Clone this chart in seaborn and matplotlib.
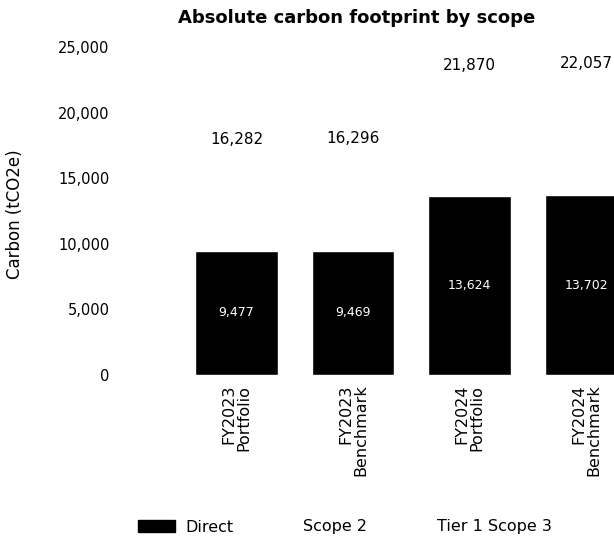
import numpy as np
import pandas as pd
import matplotlib.pyplot as plt
import seaborn as sns
from matplotlib.patches import Patch

# Data
categories = ["FY2023\nPortfolio", "FY2023\nBenchmark", "FY2024\nPortfolio", "FY2024\nBenchmark"]
direct = [9477, 9469, 13624, 13702]
scope2 = [1203, 1210, 1530, 1548]
tier1_scope3 = [5602, 5617, 6716, 6807]
totals = [16282, 16296, 21870, 22057]

df = pd.DataFrame({
    "category": categories,
    "Direct": direct,
    "Scope 2": scope2,
    "Tier 1 Scope 3": tier1_scope3,
})
df["cum2"] = df["Direct"] + df["Scope 2"]
df["cum3"] = df["cum2"] + df["Tier 1 Scope 3"]

sns.set_style("white")
plt.rcParams["font.family"] = ["DejaVu Sans"]
plt.rcParams["text.color"] = "black"
plt.rcParams["xtick.color"] = "black"
plt.rcParams["ytick.color"] = "black"
plt.rcParams["axes.labelcolor"] = "black"

fig = plt.figure(figsize=(6.14, 5.47), dpi=100)
ax = fig.add_axes([115 / 614, 172 / 547, 499 / 614, 328 / 547])

# layered bars (top layers are white, as in the reference)
sns.barplot(data=df, x="category", y="cum3", color="white", width=0.71, ax=ax,
            order=categories)
sns.barplot(data=df, x="category", y="cum2", color="white", width=0.71, ax=ax,
            order=categories)
sns.barplot(data=df, x="category", y="Direct", color="black", width=0.71, ax=ax,
            order=categories, saturation=1)

# labels
for i, (d, t) in enumerate(zip(direct, totals)):
    ax.annotate(f"{d:,}", xy=(i, d / 2), ha="center", va="center",
                color="white", fontsize=9)
    ax.annotate(f"{t:,}", xy=(i, t), xytext=(0, 16), textcoords="offset points",
                ha="center", va="center", color="black", fontsize=11)

ax.set_ylim(0, 25000)
ax.set_xlim(-1.043, 3.24)
ax.set_yticks(range(0, 25001, 5000))
ax.set_yticklabels([f"{v:,}" for v in range(0, 25001, 5000)], fontsize=10.5)
ax.tick_params(axis="y", length=0, pad=4)
ax.tick_params(axis="x", length=0, pad=7)
ax.set_xticks(range(len(categories)))
ax.set_xticklabels(categories, rotation=90, fontsize=11.5, va="top", ha="center",
                   multialignment="right", linespacing=1.0)
ax.set_xlabel("")
ax.set_ylabel("Carbon (tCO2e)", fontsize=12)
ax.yaxis.set_label_coords(-0.183, 0.49)
sns.despine(ax=ax, left=True, bottom=True)

fig.text(357 / 614, 1 - 18 / 547, "Absolute carbon footprint by scope",
         ha="center", va="center", fontsize=13, fontweight="bold")

handles = [Patch(facecolor="black", edgecolor="black", label="Direct"),
           Patch(facecolor="white", edgecolor="white", label="Scope 2"),
           Patch(facecolor="white", edgecolor="white", label="Tier 1 Scope 3")]
fig.legend(handles=handles, loc="center", bbox_to_anchor=(345 / 614, 20 / 547),
           ncol=3, frameon=False, fontsize=11.5, handlelength=2.3,
           handleheight=0.85, handletextpad=0.63, columnspacing=1.45)

fig.savefig("out.png", dpi=100)
